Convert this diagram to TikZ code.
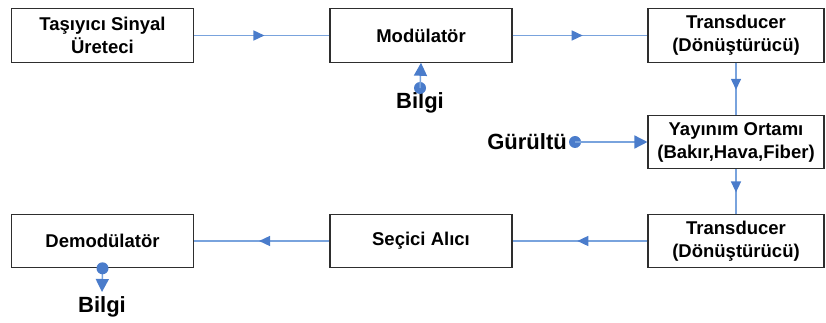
\documentclass[tikz,border=0pt]{standalone}
\usepackage{fontspec}
\setmainfont{Liberation Sans}
\usetikzlibrary{arrows.meta,decorations.markings}
\definecolor{linec}{HTML}{79A3DD}
\definecolor{tipc}{HTML}{4A7CCB}
\definecolor{framec}{HTML}{2E2E2E}
\tikzset{
  block/.style={draw=framec, line width=1.1pt, fill=white, inner sep=0pt,
    minimum width=182pt, minimum height=53.5pt, align=center,
    font=\bfseries\fontsize{18.5}{23}\selectfont},
  lbl/.style={inner sep=0pt, font=\bfseries\fontsize{22}{26}\selectfont},
  dot/.style={circle, fill=tipc, inner sep=0pt, minimum size=12pt},
  conn/.style={draw=linec, line width=1.5pt},
  midarrow/.style={postaction={decorate}, decoration={markings,
    mark=at position 0.52 with {\arrow[tipc]{Triangle[length=11pt,width=10pt]}}}},
  bigtip/.style={-{Triangle[length=13pt,width=13pt,color=tipc]}}
}
\begin{document}
\begin{tikzpicture}[x=1pt,y=-1pt]
\useasboundingbox (0,0) rectangle (826,323);

% transmitter chain
\node[block] (tasiyici) at (102.5,35.5) {Taşıyıcı Sinyal\\Üreteci};
\node[block] (mod) at (421,35.5) {Modülatör};
\node[block, minimum width=176pt] (trans1) at (736,35.5) {Transducer\\(Dönüştürücü)};
\node[block, minimum width=176pt] (yay) at (736,142) {Yayınım Ortamı\\(Bakır,Hava,Fiber)};
% receiver chain
\node[block, minimum width=176pt] (trans2) at (736,241) {Transducer\\(Dönüştürücü)};
\node[block] (secici) at (421,241) {Seçici Alıcı};
\node[block] (demod) at (102.5,241) {Demodülatör};

\draw[conn, midarrow] (tasiyici) -- (mod);
\draw[conn, midarrow] (mod) -- (trans1);
\draw[conn, midarrow] (trans1) -- (yay);
\draw[conn, midarrow] (yay) -- (trans2);
\draw[conn, midarrow] (trans2) -- (secici);
\draw[conn, midarrow] (secici) -- (demod);

% information input
\node[lbl] (bilgi1) at (420,103) {Bilgi};
\node[dot] (bdot1) at (420,88) {};
\draw[conn, bigtip] (bdot1.center) -- (mod.south);

% noise input
\node[lbl, anchor=east] (gurultu) at (567,142) {Gürültü};
\node[dot] (gdot) at (575,142) {};
\draw[conn, bigtip] (gdot.center) -- (yay.west);

% information output
\node[lbl] (bilgi2) at (102,307) {Bilgi};
\coordinate (bend) at (102,292);
\draw[conn, bigtip] (demod.south) -- (bend);
\node[dot] (bdot2) at (demod.south) {};
\end{tikzpicture}
\end{document}
